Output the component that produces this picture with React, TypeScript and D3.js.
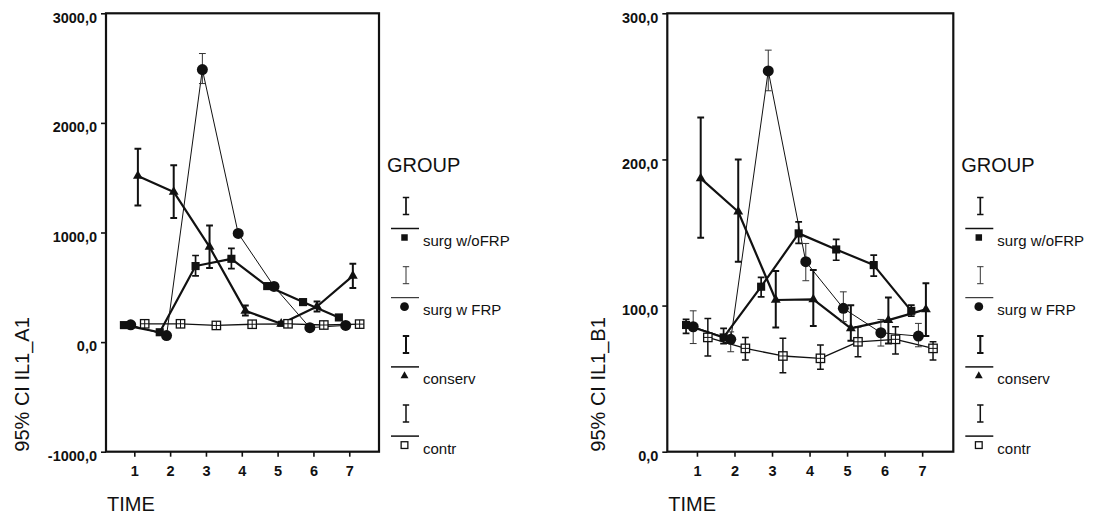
import { useCallback, useEffect, useRef } from "react";
import * as d3 from "d3";

const times = [1, 2, 3, 4, 5, 6, 7];
const groups = ["surg w/oFRP", "surg w FRP", "conserv", "contr"];

// [lower, mean, upper] per time point, IL1_A1
const a1SurgWo = [[135, 155, 175], [72, 90, 108], [605, 694, 790], [670, 760, 856], [492, 511, 530], [345, 365, 385], [205, 225, 245]];
const a1SurgW = [[140, 158, 176], [42, 60, 78], [2359, 2487, 2633], [975, 992, 1010], [492, 508, 524], [115, 132, 149], [136, 152, 168]];
const a1Conserv = [[1247, 1516, 1765], [1132, 1370, 1613], [676, 868, 1065], [243, 285, 335], [150, 167, 185], [280, 325, 371], [493, 605, 715]];
const a1Contr = [[152, 167, 182], [152, 167, 182], [140, 152, 164], [150, 163, 176], [152, 167, 182], [143, 156, 169], [150, 164, 178]];

// [lower, mean, upper] per time point, IL1_B1
const b1SurgWo = [[81, 86.7, 90.5], [74, 78.2, 84.4], [106, 112.9, 119.3], [142.5, 149.4, 157.3], [131, 138.4, 145.3], [120.2, 127.7, 134.5], [92.8, 96.4, 100.3]];
const b1SurgW = [[74, 85.5, 96.4], [68.4, 76.9, 82], [247, 260.6, 274.8], [117, 130, 142.5], [89, 98.1, 109.4], [72.3, 81.4, 90.5], [71.8, 79.1, 87.8]];
const b1Conserv = [[146.4, 187, 228.7], [130, 164.2, 200], [85, 103.8, 123.6], [86, 104.2, 124.3], [76, 84.4, 100.3], [74.1, 90, 105.6], [79.1, 97.4, 115.2]];
const b1Contr = [[65.5, 78.2, 91.2], [62.7, 70.7, 78.2], [54, 65.5, 77.6], [56.4, 63.9, 73], [65, 75.2, 85.5], [66.8, 76.9, 85.5], [62.7, 70.7, 75.2]];

const a1Ticks = [-1000, 0, 1000, 2000, 3000];
const b1Ticks = [0, 100, 200, 300];

const FONT = "'Liberation Sans', Arial, sans-serif";

const styles = [
  { shape: "square", line: 2.2, err: 1.7, errColor: "#111", off: -0.29 },
  { shape: "circle", line: 1, err: 1, errColor: "#333", off: -0.1 },
  { shape: "triangle", line: 2.2, err: 2, errColor: "#111", off: 0.1 },
  { shape: "open", line: 1.3, err: 1.5, errColor: "#111", off: 0.29 },
];

const fmt = d3
  .formatLocale({ decimal: ",", thousands: ".", grouping: [3], currency: ["", ""], minus: "-" })
  .format(".1f");

const drawMarker = (g, shape, cx, cy, small) => {
  const k = small ? 0.8 : 1;
  if (shape === "open") {
    const h = 4.2 * k;
    g.append("rect")
      .attr("x", cx - h).attr("y", cy - h)
      .attr("width", 2 * h).attr("height", 2 * h)
      .attr("fill", "#fff").attr("stroke", "#111").attr("stroke-width", 1.3);
    if (!small) {
      g.append("path")
        .attr("d", `M${cx - h},${cy}H${cx + h}M${cx},${cy - h}V${cy + h}`)
        .attr("stroke", "#111").attr("stroke-width", 1);
    }
    return;
  }
  const type = shape === "square" ? d3.symbolSquare : shape === "circle" ? d3.symbolCircle : d3.symbolTriangle;
  const size = shape === "square" ? 66 : shape === "circle" ? 95 : 42;
  g.append("path")
    .attr("d", d3.symbol().type(type).size(size * k * k)())
    .attr("transform", `translate(${cx},${cy})`)
    .attr("fill", "#111");
};

const App = () => {
  const svgRef = useRef(null);

  const renderChart = useCallback((root, cfg) => {
    const { left, right, top, bottom, yDomain, yTicks, series, yLabel, yLabelX } = cfg;
    const g = root.append("g");

    const x = d3.scaleLinear().domain([0.21, 7.83]).range([left, right]);
    const y = d3.scaleLinear().domain(yDomain).range([bottom, top]);

    g.append("g")
      .attr("transform", `translate(${left},0)`)
      .call(d3.axisLeft(y).tickValues(yTicks).tickFormat(fmt).tickSize(5).tickSizeOuter(0).tickPadding(4))
      .call((a) => a.select(".domain").remove())
      .call((a) => a.selectAll("line").attr("stroke", "#111").attr("stroke-width", 1.6))
      .call((a) =>
        a.selectAll("text")
          .attr("dy", "0.6em")
          .attr("fill", "#111")
          .style("font", `bold 14.5px ${FONT}`)
      );

    g.append("g")
      .attr("transform", `translate(0,${bottom})`)
      .call(d3.axisBottom(x).tickValues(times).tickFormat(d3.format("d")).tickSize(5).tickSizeOuter(0).tickPadding(9.5))
      .call((a) => a.select(".domain").remove())
      .call((a) => a.selectAll("line").attr("stroke", "#111").attr("stroke-width", 1.6))
      .call((a) => a.selectAll("text").attr("fill", "#111").style("font", `bold 14.5px ${FONT}`));

    g.append("rect")
      .attr("x", left).attr("y", top)
      .attr("width", right - left).attr("height", bottom - top)
      .attr("fill", "none").attr("stroke", "#111").attr("stroke-width", 2.2);

    const line = d3.line()
      .x((d) => x(d[0]))
      .y((d) => y(d[1]));

    series.forEach((data, si) => {
      const st = styles[si];
      const pts = data.map((d, i) => [times[i] + st.off, d[1]]);
      g.append("path")
        .datum(pts)
        .attr("fill", "none")
        .attr("stroke", "#111")
        .attr("stroke-width", st.line)
        .attr("stroke-linejoin", "round")
        .attr("d", line);
    });

    series.forEach((data, si) => {
      const st = styles[si];
      const eg = g.append("g").attr("stroke", st.errColor).attr("stroke-width", st.err).attr("fill", "none");
      data.forEach((d, i) => {
        const cx = x(times[i] + st.off);
        const y0 = y(d[0]);
        const y1 = y(d[2]);
        eg.append("path").attr("d", `M${cx},${y0}V${y1}M${cx - 3.4},${y0}H${cx + 3.4}M${cx - 3.4},${y1}H${cx + 3.4}`);
      });
    });

    series.forEach((data, si) => {
      const st = styles[si];
      const mg = g.append("g");
      data.forEach((d, i) => drawMarker(mg, st.shape, x(times[i] + st.off), y(d[1]), false));
    });

    g.append("text")
      .attr("x", left + 1).attr("y", 510.5)
      .attr("fill", "#111")
      .style("font", `20px ${FONT}`)
      .text("TIME");

    g.append("text")
      .attr("transform", `translate(${yLabelX},${bottom}) rotate(-90)`)
      .attr("fill", "#111")
      .style("font", `20px ${FONT}`)
      .text(yLabel);

    const lx = right + 8;
    const lg = g.append("g");
    lg.append("text")
      .attr("x", lx).attr("y", 171.5)
      .attr("fill", "#111")
      .style("font", `20px ${FONT}`)
      .text("GROUP");

    groups.forEach((name, i) => {
      const st = styles[i];
      const ly = 228.5 + i * 69.2;
      const bx = lx + 19;
      lg.append("path")
        .attr("d", `M${bx},${ly - 31}V${ly - 14}M${bx - 3.2},${ly - 31}H${bx + 3.2}M${bx - 3.2},${ly - 14}H${bx + 3.2}`)
        .attr("stroke", st.errColor).attr("stroke-width", st.err).attr("fill", "none");
      lg.append("line")
        .attr("x1", lx + 4).attr("x2", lx + 32)
        .attr("y1", ly).attr("y2", ly)
        .attr("stroke", "#111").attr("stroke-width", st.line < 1.2 ? 1 : 1.5);
      drawMarker(lg, st.shape, lx + 17.5, ly + 9, true);
      lg.append("text")
        .attr("x", lx + 36).attr("y", ly + 17.5)
        .attr("fill", "#111")
        .style("font", `15px ${FONT}`)
        .text(name);
    });
  }, []);

  useEffect(() => {
    const svg = d3.select(svgRef.current);
    svg.selectAll("*").remove();
    renderChart(svg, {
      left: 106, right: 379, top: 13.3, bottom: 451.7,
      yDomain: [-1000, 3000], yTicks: a1Ticks,
      series: [a1SurgWo, a1SurgW, a1Conserv, a1Contr],
      yLabel: "95% CI IL1_A1", yLabelX: 28.5,
    });
    renderChart(svg, {
      left: 667.3, right: 953.3, top: 13.3, bottom: 451.7,
      yDomain: [0, 300], yTicks: b1Ticks,
      series: [b1SurgWo, b1SurgW, b1Conserv, b1Contr],
      yLabel: "95% CI IL1_B1", yLabelX: 605,
    });
  }, [renderChart]);

  return (
    <svg
      ref={svgRef}
      width={1100}
      height={515}
      style={{ position: "absolute", left: 0, top: 0, background: "#fff" }}
    />
  );
};

export default App;
